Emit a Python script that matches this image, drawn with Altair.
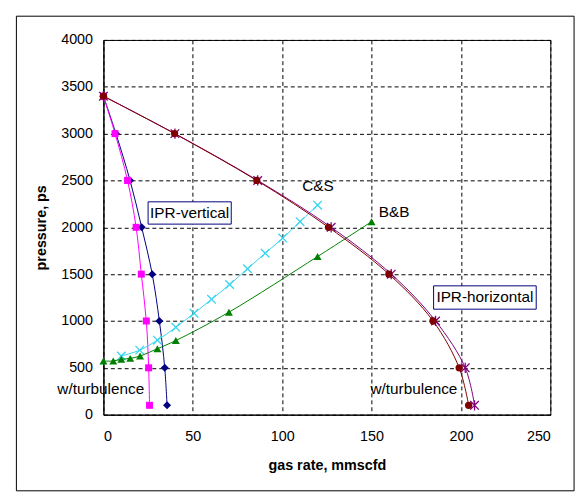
import altair as alt
import pandas as pd

# ---- data ----
pressure = [3400, 3000, 2500, 2000, 1500, 1000, 500, 100]
vert_rate = [0, 7.0, 14.9, 21.4, 27.3, 31.3, 34.3, 35.6]
vert_rate_turb = [0, 6.5, 13.5, 18.3, 21.2, 24.0, 25.3, 25.8]
horiz_rate = [0, 40.0, 86.3, 127.4, 161.0, 185.8, 202.4, 207.6]
horiz_rate_turb = [0, 39.8, 85.8, 125.9, 159.7, 184.4, 199.0, 204.3]

cs_rate = [10, 20.3, 30.2, 40.5, 50.7, 60.5, 70.6, 80.6, 90.5, 100.3, 110, 119.8]
cs_pressure = [626, 689, 795, 932, 1083, 1231, 1389, 1558, 1723, 1885, 2060, 2236]

bb_rate = [0, 5.5, 10, 15, 20.5, 30.2, 40.5, 70.2, 119.8, 150]
bb_pressure = [573, 573, 591, 601, 626, 704, 791, 1094, 1688, 2060]

label_text = ["C&S", "B&B", "w/turbulence", "w/turbulence"]
label_x = [120, 162.6, -1.5, 173.7]
label_y = [2438, 2164, 274, 274]

box_text = ["IPR-vertical", "IPR-horizontal"]
box_x1 = [25.0, 184.7]
box_x2 = [71.5, 242.1]
box_y1 = [2272, 1375]
box_y2 = [2034, 1126]

x_ticks = [0, 50, 100, 150, 200, 250]
y_ticks = [0, 500, 1000, 1500, 2000, 2500, 3000, 3500, 4000]

FONT = "Liberation Sans"


def frame(rates, pressures):
    return pd.DataFrame({"q": rates, "p": pressures, "i": list(range(len(rates)))})


X = alt.X("q:Q", scale=alt.Scale(domain=[0, 250], nice=False),
          axis=alt.Axis(values=x_ticks, format="d", title="gas rate, mmscfd"))
Y = alt.Y("p:Q", scale=alt.Scale(domain=[0, 4000], nice=False),
          axis=alt.Axis(values=y_ticks, format="d", title="pressure, ps"))

XCROSS = "M-1,-1L1,1M-1,1L1,-1"
STAR = "M-1,-1L1,1M-1,1L1,-1M0,-1.2L0,1.2"


def series(data, color, shape, size, filled=True):
    base = alt.Chart(data).encode(x=X, y=Y, order="i:O")
    line = base.mark_line(color=color, strokeWidth=1, interpolate="catmull-rom")
    pts = base.mark_point(shape=shape, size=size, filled=filled, color=color,
                          opacity=1, strokeWidth=1.3)
    return [line, pts]


layers = []
layers += series(frame(vert_rate, pressure), "#000080", "diamond", 65)
layers += series(frame(vert_rate_turb, pressure), "#FF00FF", "square", 50)
layers += series(frame(cs_rate, cs_pressure), "#33D6EE", XCROSS, 75, filled=False)
layers += series(frame(bb_rate, bb_pressure), "#008000", "triangle-up", 65)
layers += series(frame(horiz_rate, pressure), "#800080", STAR, 75, filled=False)
layers += series(frame(horiz_rate_turb, pressure), "#800000", "circle", 55)

boxes = pd.DataFrame({"t": box_text, "x1": box_x1, "x2": box_x2, "y1": box_y1, "y2": box_y2})
boxes["xm"] = (boxes["x1"] + boxes["x2"]) / 2
boxes["ym"] = (boxes["y1"] + boxes["y2"]) / 2

box_rect = alt.Chart(boxes).mark_rect(fill="white", stroke="#000080", strokeWidth=1).encode(
    x="x1:Q", x2="x2:Q", y="y1:Q", y2="y2:Q")
box_label = alt.Chart(boxes).mark_text(font=FONT, fontSize=15.5, color="black").encode(
    x="xm:Q", y="ym:Q", text="t:N")

labels = pd.DataFrame({"t": label_text, "x": label_x, "y": label_y})
label_marks = alt.Chart(labels).mark_text(font=FONT, fontSize=15.5, color="black").encode(
    x="x:Q", y="y:Q", text="t:N")

outer = alt.Chart(pd.DataFrame({"a": [0]})).mark_rect(
    fill="transparent", stroke="black", strokeWidth=1).encode(
    x=alt.value(-88), x2=alt.value(476), y=alt.value(-24), y2=alt.value(456))

chart = alt.layer(*layers, box_rect, box_label, label_marks, outer).properties(
    width=452, height=379,
    padding={"left": 7.5, "top": 4.5, "right": 5, "bottom": 5},
    background="white",
).configure_axis(
    labelFont=FONT, labelFontSize=14.5, labelColor="black",
    titleFont=FONT, titleFontSize=14.5, titleFontWeight="bold", titleColor="black",
    domainColor="black", domainWidth=1,
    grid=True, gridColor="black", gridDash=[4, 3], gridWidth=1, gridOpacity=1,
    ticks=False, tickSize=0,
).configure_axisX(labelPadding=15, titlePadding=16).configure_axisY(
    labelPadding=11, titlePadding=12
).configure_view(stroke="black", strokeWidth=1)

chart.save("out.html", embed_options={"renderer": "svg", "actions": False})
